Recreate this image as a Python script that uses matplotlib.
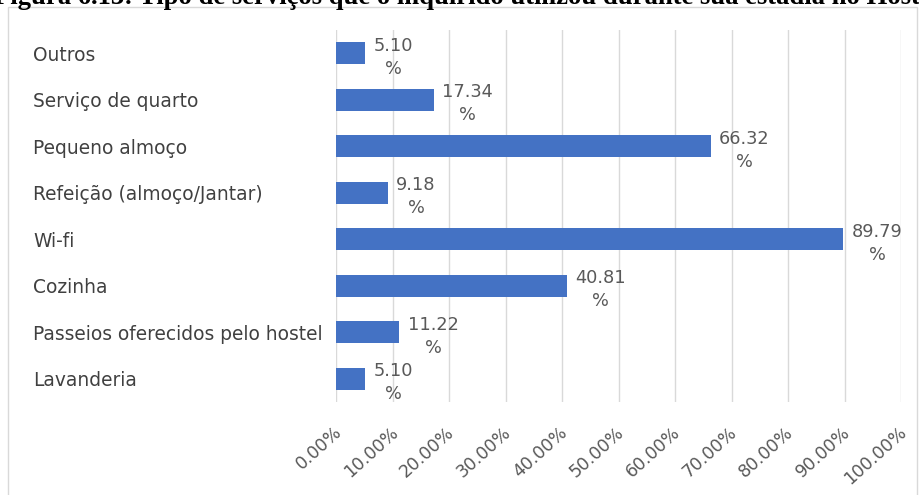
import matplotlib.pyplot as plt
import numpy as np
from matplotlib.patches import Rectangle
from matplotlib.ticker import FuncFormatter
from matplotlib.transforms import ScaledTranslation

categories = ['Outros', 'Serviço de quarto', 'Pequeno almoço', 'Refeição (almoço/Jantar)',
              'Wi-fi', 'Cozinha', 'Passeios oferecidos pelo hostel', 'Lavanderia']
values = [5.10, 17.34, 66.32, 9.18, 89.79, 40.81, 11.22, 5.10]
ticks = np.arange(0, 101, 10)

W, H = 919, 495
fig = plt.figure(figsize=(W / 100, H / 100), dpi=100)
ax = fig.add_axes([336 / W, 1 - 402 / H, (901 - 336) / W, (402 - 30) / H])

# chart area border (bottom edge runs off the figure)
fig.patches.append(Rectangle((8 / W, -10 / H), (917 - 8) / W, (488 + 10) / H,
                             transform=fig.transFigure, fill=False,
                             edgecolor='#d9d9d9', linewidth=1))

# caption above the chart, cut off by the top edge
fig.text(-6 / W, 1 - 4 / H,
         'Figura 6.13: Tipo de serviços que o inquirido utilizou durante sua estadia no Hostel',
         family='Liberation Serif', weight='bold', fontsize=19.2, va='baseline', ha='left',
         color='black')

y = np.arange(len(categories))
ax.barh(y, values, height=0.48, color='#4472C4', zorder=3)

for yi, v in zip(y, values):
    ax.text(v + 1.5, yi + 0.09, f'{v:.2f}\n%', ha='left', va='center', multialignment='center',
            fontsize=12.8, color='#595959', family='DejaVu Sans', linespacing=1.35, zorder=4)

ax.set_xlim(0, 100)
ax.set_ylim(len(categories) - 0.5, -0.5)
ax.set_xticks(ticks)
ax.xaxis.set_major_formatter(FuncFormatter(lambda x, p: f'{x:.2f}%'))
ax.grid(axis='x', color='#d9d9d9', linewidth=1, zorder=0)
for s in ax.spines.values():
    s.set_visible(False)

ax.set_yticks(y)
ax.set_yticklabels(categories, ha='left', fontsize=13.4, color='#404040', family='DejaVu Sans')
ax.tick_params(axis='y', length=0, pad=(336 - 33) * 0.72)
ax.tick_params(axis='x', length=0, pad=20)
shift = ScaledTranslation(3 / 100, 0, fig.dpi_scale_trans)
for lbl in ax.get_xticklabels():
    lbl.set_rotation(42)
    lbl.set_ha('right')
    lbl.set_va('center')
    lbl.set_rotation_mode('anchor')
    lbl.set_fontsize(12.5)
    lbl.set_color('#595959')
    lbl.set_family('DejaVu Sans')
    lbl.set_transform(lbl.get_transform() + shift)

fig.savefig('out.png', dpi=100)
